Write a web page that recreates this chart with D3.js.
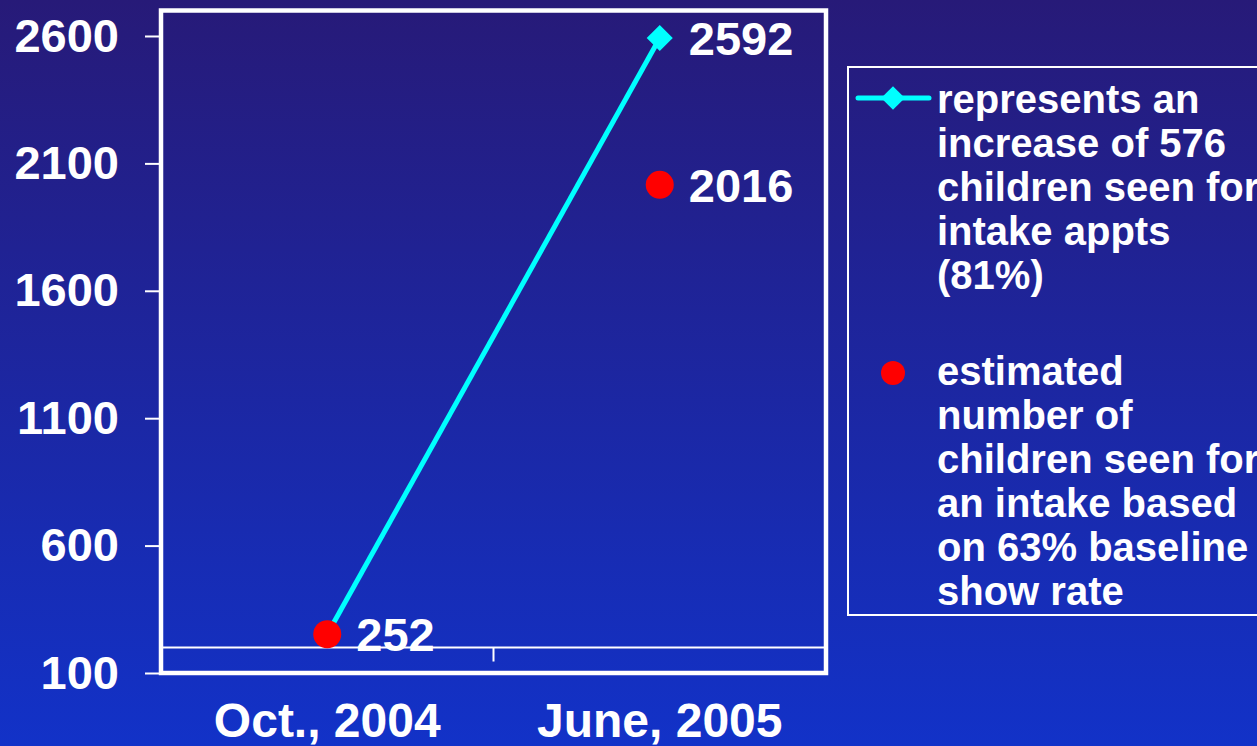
<!DOCTYPE html>
<html>
<head>
<meta charset="utf-8">
<script src="https://cdn.jsdelivr.net/npm/d3@7"></script>
<style>
  html, body { margin: 0; padding: 0; overflow: hidden; }
  svg { display: block; }
  text { font-family: "Liberation Sans", Arial, sans-serif; font-weight: bold; fill: #ffffff; }
</style>
</head>
<body>
<svg id="chart" width="1257" height="746"></svg>
<script>
// Categories and series values
const categories = ["Oct., 2004", "June, 2005"];
const intakeSeen = [252, 2592];      // children seen for intake appts
const estimatedSeen = [252, 2016];   // estimate at 63% baseline show rate
const yTicks = [100, 600, 1100, 1600, 2100, 2600];
const yDomain = [100, 2700];
const axisCrossing = 200;

const legendIntake = ["represents an", "increase of 576", "children seen for", "intake appts", "(81%)"];
const legendEstimate = ["estimated", "number of", "children seen for", "an intake based", "on 63% baseline", "show rate"];

const W = 1257, H = 746;
const plot = { left: 161, right: 826, top: 10.5, bottom: 673 };
const CYAN = "#00ffff", RED = "#ff0000";

const svg = d3.select("#chart");

// background gradient
const defs = svg.append("defs");
const grad = defs.append("linearGradient").attr("id", "bg").attr("x1", 0).attr("y1", 0).attr("x2", 0).attr("y2", 1);
grad.append("stop").attr("offset", "0%").attr("stop-color", "#271a78");
grad.append("stop").attr("offset", "100%").attr("stop-color", "#1232c8");
svg.append("rect").attr("width", W).attr("height", H).attr("fill", "url(#bg)");

const x = d3.scaleBand().domain(categories).range([plot.left, plot.right]);
const y = d3.scaleLinear().domain(yDomain).range([plot.bottom, plot.top]);
const cx = c => x(c) + x.bandwidth() / 2;

// y axis ticks and labels
const yAxis = svg.append("g").attr("transform", `translate(${plot.left},0)`)
  .call(d3.axisLeft(y).tickValues(yTicks).tickSize(16).tickPadding(26).tickFormat(d3.format("d")));
yAxis.select(".domain").remove();
yAxis.selectAll(".tick line").attr("stroke", "#ffffff").attr("stroke-width", 2);
yAxis.selectAll(".tick text").style("font-size", "47px").attr("fill", "#ffffff")
  .style("font-family", "'Liberation Sans', Arial, sans-serif").style("font-weight", "bold");

// category axis crossing at 200
const xAxis = svg.append("g").attr("transform", `translate(0,${y(axisCrossing)})`);
xAxis.append("line").attr("x1", plot.left).attr("x2", plot.right)
  .attr("stroke", "#ffffff").attr("stroke-width", 2);
xAxis.selectAll("line.sep").data(categories.slice(1)).join("line").attr("class", "sep")
  .attr("x1", d => x(d)).attr("x2", d => x(d)).attr("y1", 0).attr("y2", 14)
  .attr("stroke", "#ffffff").attr("stroke-width", 2);

// category labels under the frame
svg.selectAll("text.cat").data(categories).join("text").attr("class", "cat")
  .attr("x", d => cx(d)).attr("y", 737).attr("text-anchor", "middle")
  .style("font-size", "48px").text(d => d);

// plot frame
svg.append("rect").attr("x", plot.left).attr("y", plot.top)
  .attr("width", plot.right - plot.left).attr("height", plot.bottom - plot.top)
  .attr("fill", "none").attr("stroke", "#ffffff").attr("stroke-width", 4.5);

// intake line with diamond markers
const line = d3.line().x((d, i) => cx(categories[i])).y(d => y(d));
svg.append("path").datum(intakeSeen).attr("d", line)
  .attr("fill", "none").attr("stroke", CYAN).attr("stroke-width", 5);
const diamond = d3.symbol().type(d3.symbolSquare).size(340);
svg.selectAll("path.dia").data(intakeSeen).join("path").attr("class", "dia")
  .attr("d", diamond)
  .attr("transform", (d, i) => `translate(${cx(categories[i])},${y(d)}) rotate(45)`)
  .attr("fill", CYAN);

// estimated points
svg.selectAll("circle.est").data(estimatedSeen).join("circle").attr("class", "est")
  .attr("cx", (d, i) => cx(categories[i])).attr("cy", d => y(d)).attr("r", 14)
  .attr("fill", RED);

// value labels
const labels = [
  { cat: categories[0], v: estimatedSeen[0] },
  { cat: categories[1], v: estimatedSeen[1] },
  { cat: categories[1], v: intakeSeen[1] }
];
svg.selectAll("text.val").data(labels).join("text").attr("class", "val")
  .attr("x", d => cx(d.cat) + 29).attr("y", d => y(d.v) + 17)
  .style("font-size", "47px").text(d => d.v);

// legend
const lg = svg.append("g");
lg.append("rect").attr("x", 848).attr("y", 67).attr("width", 480).attr("height", 548)
  .attr("fill", "none").attr("stroke", "#ffffff").attr("stroke-width", 2);
lg.append("line").attr("x1", 858).attr("x2", 929).attr("y1", 98).attr("y2", 98)
  .attr("stroke", CYAN).attr("stroke-width", 5).attr("stroke-linecap", "round");
lg.append("path").attr("d", d3.symbol().type(d3.symbolSquare).size(280))
  .attr("transform", "translate(893,98) rotate(45)").attr("fill", CYAN);
lg.append("circle").attr("cx", 893).attr("cy", 373).attr("r", 12).attr("fill", RED);

lg.selectAll("text.l1").data(legendIntake).join("text").attr("class", "l1")
  .attr("x", 937).attr("y", (d, i) => 113 + i * 44).style("font-size", "40px").text(d => d);
lg.selectAll("text.l2").data(legendEstimate).join("text").attr("class", "l2")
  .attr("x", 937).attr("y", (d, i) => 385 + i * 44).style("font-size", "40px").text(d => d);
</script>
</body>
</html>
